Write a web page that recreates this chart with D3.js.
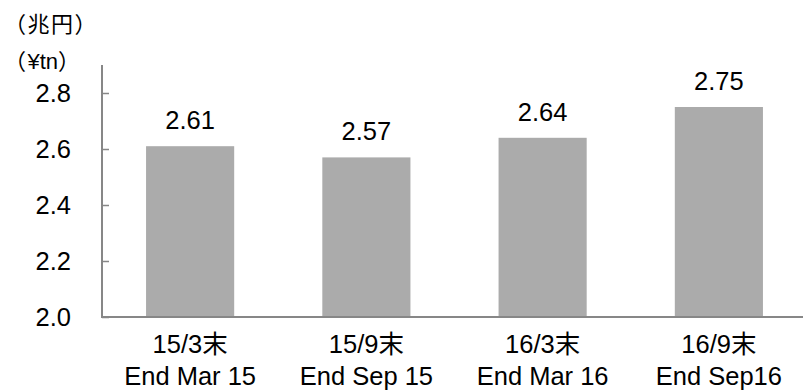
<!DOCTYPE html>
<html>
<head>
<meta charset="utf-8">
<script src="https://cdn.jsdelivr.net/npm/d3@7"></script>
<style>
  body { margin: 0; background: #fff; }
  text { font-family: "Liberation Sans", Arial, "Noto Sans CJK JP", sans-serif; fill: #000; }
  text.unit { font-family: "Noto Sans CJK JP", sans-serif; letter-spacing: 1.5px; }
  tspan.latin { font-family: "Liberation Sans", Arial, sans-serif; letter-spacing: 0; }
</style>
</head>
<body>
<svg id="chart" width="803" height="391"></svg>
<script>
// 期末残高（兆円）
const periodsJa = ["15/3末", "15/9末", "16/3末", "16/9末"];
const periodsEn = ["End Mar 15", "End Sep 15", "End Mar 16", "End Sep16"];
const values = [2.61, 2.57, 2.64, 2.75];
const yTicks = [2.0, 2.2, 2.4, 2.6, 2.8];

const svg = d3.select("#chart");
const plotLeft = 102, plotRight = 807, plotTop = 65, plotBottom = 317;

let x = d3.scaleBand()
    .domain(d3.range(values.length))
    .range([plotLeft, plotRight])
    .paddingInner(0.5)
    .paddingOuter(0.25);

let y = d3.scaleLinear()
    .domain([2.0, 2.9])
    .range([plotBottom, plotTop]);

// 棒
svg.selectAll(".bar")
    .data(values)
    .enter().append("rect")
    .attr("class", "bar")
    .attr("x", (d, i) => x(i))
    .attr("y", d => y(d))
    .attr("width", x.bandwidth())
    .attr("height", d => y(2.0) - y(d))
    .attr("fill", "#ababab");

// 値ラベル
svg.selectAll(".val")
    .data(values)
    .enter().append("text")
    .attr("class", "val")
    .attr("x", (d, i) => x(i) + x.bandwidth() / 2)
    .attr("y", d => y(d) - 17)
    .attr("text-anchor", "middle")
    .style("font-size", "25.5px")
    .text(d => d.toFixed(2));

// y軸
let yAxis = svg.append("g")
    .attr("transform", "translate(" + plotLeft + ",0)")
    .call(d3.axisLeft(y).tickValues(yTicks).tickSize(-7).tickPadding(31)
        .tickFormat(d3.format(".1f")));
yAxis.select(".domain").attr("d", "M0," + plotTop + "V" + plotBottom)
    .attr("stroke", "#878787").attr("stroke-width", 2);
yAxis.selectAll(".tick line").attr("stroke", "#878787").attr("stroke-width", 1.5);
yAxis.selectAll(".tick text")
    .style("font-size", "25.5px")
    .attr("font-family", null)
    .attr("fill", "#000");

// x軸
let xAxis = svg.append("g")
    .attr("transform", "translate(0," + plotBottom + ")")
    .call(d3.axisBottom(x).tickSize(0).tickFormat(""));
xAxis.select(".domain").attr("d", "M" + (plotLeft - 1) + ",0H" + plotRight)
    .attr("stroke", "#878787").attr("stroke-width", 2);

// カテゴリラベル（2行）
let cat = svg.selectAll(".cat")
    .data(values)
    .enter().append("text")
    .attr("class", "cat")
    .attr("text-anchor", "middle")
    .style("font-size", "25.5px");
cat.append("tspan")
    .attr("x", (d, i) => x(i) + x.bandwidth() / 2)
    .attr("y", plotBottom + 36)
    .text((d, i) => periodsJa[i]);
cat.append("tspan")
    .attr("x", (d, i) => x(i) + x.bandwidth() / 2)
    .attr("y", plotBottom + 68)
    .text((d, i) => periodsEn[i]);

// 単位
svg.append("text").attr("class", "unit").attr("x", 4).attr("y", 32)
    .style("font-size", "22px").text("（兆円）");
let unit2 = svg.append("text").attr("class", "unit").attr("x", 4).attr("y", 69)
    .style("font-size", "22px");
unit2.append("tspan").text("（");
unit2.append("tspan").attr("class", "latin").text("¥tn");
unit2.append("tspan").text("）");
</script>
</body>
</html>
